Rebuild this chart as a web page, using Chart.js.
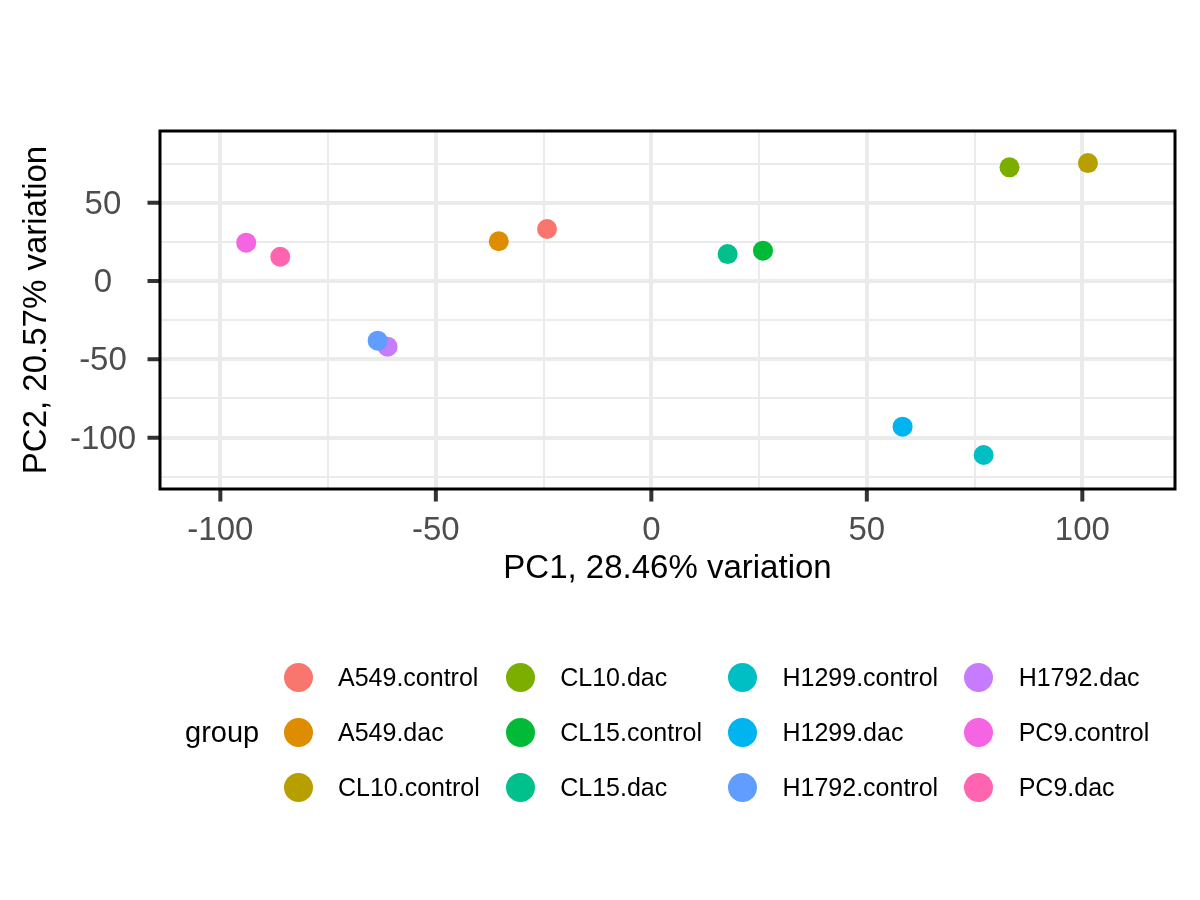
<!DOCTYPE html>
<html>
<head>
<meta charset="utf-8">
<script src="https://cdn.jsdelivr.net/npm/chart.js@4.4.1/dist/chart.umd.min.js"></script>
<style>
    html, body { margin: 0; padding: 0; background: #fff; }
    #wrap { position: relative; width: 1200px; height: 900px; font-family: "Liberation Sans", Arial, sans-serif; }
    #pca { position: absolute; left: 0; top: 0; }
    .legend-title { position: absolute; left: 185px; top: 704.5px; font-size: 29px; line-height: 55px; color: #000; }
    .legend { position: absolute; left: 283.5px; top: 649.5px; display: grid; grid-template-rows: 55px 55px 55px; grid-auto-flow: column; column-gap: 26px; }
    .legend .item { display: flex; align-items: center; font-size: 25px; line-height: 55px; color: #000; white-space: nowrap; }
    .legend .dot { width: 29px; height: 29px; border-radius: 50%; margin-right: 25.5px; flex: none; }
</style>
</head>
<body>
<div id="wrap">
    <canvas id="pca" width="1200" height="900"></canvas>
    <div class="legend-title">group</div>
    <div class="legend" id="legend"></div>
</div>
<script>
"use strict";

// Grupper och PCA-koordinater
const groups = ["A549.control", "A549.dac", "CL10.control", "CL10.dac", "CL15.control", "CL15.dac",
    "H1299.control", "H1299.dac", "H1792.control", "H1792.dac", "PC9.control", "PC9.dac"];
const pc1 = [-24.2, -35.4, 101.3, 83.1, 25.9, 17.7, 77.1, 58.3, -63.5, -61.2, -94.0, -86.1];
const pc2 = [33.2, 25.4, 75.3, 72.6, 19.4, 17.2, -111.1, -93.0, -38.1, -41.9, 24.5, 15.5];

// Tickvärden (major var 50, minor däremellan)
const xTicks = [-100, -75, -50, -25, 0, 25, 50, 75, 100];
const yTicks = [-125, -100, -75, -50, -25, 0, 25, 50, 75];

// ggplot-standardfärger för 12 grupper
const palette = ["#F8766D", "#DE8C00", "#B79F00", "#7CAE00", "#00BA38", "#00C08B",
    "#00BFC4", "#00B4F0", "#619CFF", "#C77CFF", "#F564E3", "#FF64B0"];

const family = '"Liberation Sans", Arial, sans-serif';

const major = v => v % 50 === 0;
const isMajor = ctx => ctx.tick && major(ctx.tick.value);

// Ram runt plotytan och tickmarkeringar utanför, som i ggplot
const panelBorder = {
    id: 'panelBorder',
    afterDraw(chart) {
        const { ctx, chartArea: a, scales } = chart;
        ctx.save();
        ctx.strokeStyle = '#333333';
        ctx.lineWidth = 4;
        ctx.beginPath();
        xTicks.filter(major).forEach(v => {
            const px = scales.x.getPixelForValue(v);
            ctx.moveTo(px, a.bottom);
            ctx.lineTo(px, a.bottom + 12.5);
        });
        yTicks.filter(major).forEach(v => {
            const py = scales.y.getPixelForValue(v);
            ctx.moveTo(a.left, py);
            ctx.lineTo(a.left - 12.5, py);
        });
        ctx.stroke();

        ctx.strokeStyle = '#000';
        ctx.lineWidth = 3;
        ctx.strokeRect(a.left, a.top, a.right - a.left, a.bottom - a.top);
        ctx.restore();
    }
};

new Chart(document.getElementById('pca'), {
    type: 'scatter',
    data: {
        datasets: groups.map((g, i) => ({
            label: g,
            data: [{ x: pc1[i], y: pc2[i] }],
            backgroundColor: palette[i],
            borderWidth: 0,
            pointRadius: 10
        }))
    },
    options: {
        responsive: false,
        animation: false,
        devicePixelRatio: 1,
        events: [],
        layout: { padding: { top: 131, right: 25, left: 10, bottom: 311 } },
        plugins: { legend: { display: false }, tooltip: { enabled: false } },
        scales: {
            x: {
                type: 'linear',
                min: -114,
                max: 121.5,
                afterBuildTicks: s => { s.ticks = xTicks.map(v => ({ value: v })); },
                afterFit: s => { s.height = 100; },
                ticks: {
                    autoSkip: false, maxRotation: 0, padding: 10, color: '#4D4D4D',
                    font: { size: 33, family },
                    callback: v => (major(v) ? v : '')
                },
                grid: {
                    color: '#EBEBEB',
                    lineWidth: ctx => (isMajor(ctx) ? 4 : 2),
                    tickLength: 12,
                    tickColor: 'rgba(0,0,0,0)'
                },
                border: { display: false },
                title: { display: true, text: 'PC1, 28.46% variation', color: '#000', font: { size: 33, family }, padding: { top: 0, bottom: 0 } }
            },
            y: {
                type: 'linear',
                min: -132.8,
                max: 95.8,
                afterBuildTicks: s => { s.ticks = yTicks.map(v => ({ value: v })); },
                afterFit: s => { s.width = 150; },
                ticks: {
                    autoSkip: false, padding: 12, color: '#4D4D4D', crossAlign: 'center',
                    labelOffset: 2,
                    font: { size: 33, family },
                    callback: v => (major(v) ? v : '')
                },
                grid: {
                    color: '#EBEBEB',
                    lineWidth: ctx => (isMajor(ctx) ? 4 : 2),
                    tickLength: 12,
                    tickColor: 'rgba(0,0,0,0)'
                },
                border: { display: false },
                title: { display: true, text: 'PC2, 20.57% variation', color: '#000', font: { size: 33, family }, padding: { top: 7, bottom: 0 } }
            }
        }
    },
    plugins: [panelBorder]
});

// Bygg legenden i HTML, kolumnvis med tre rader
const legendEl = document.getElementById('legend');
groups.forEach((g, i) => {
    const item = document.createElement('div');
    item.className = 'item';
    const dot = document.createElement('span');
    dot.className = 'dot';
    dot.style.background = palette[i];
    item.appendChild(dot);
    item.appendChild(document.createTextNode(g));
    legendEl.appendChild(item);
});
</script>
</body>
</html>
